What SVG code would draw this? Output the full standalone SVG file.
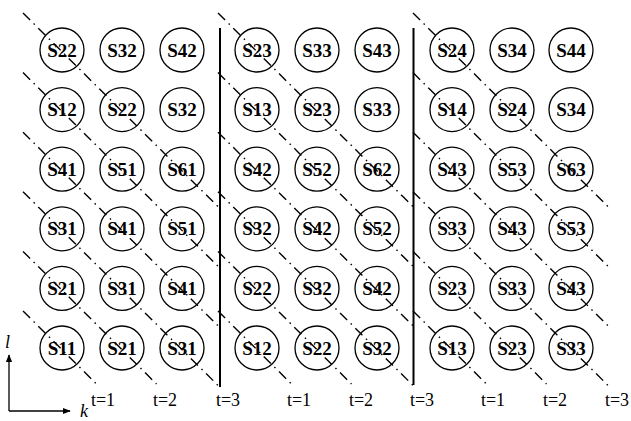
<svg xmlns="http://www.w3.org/2000/svg" width="631" height="421" viewBox="0 0 631 421">
<defs>
<style>
.n circle{fill:none;stroke:#000;stroke-width:1.3}
.n text{font-family:"Liberation Serif","Times New Roman",serif;font-size:19px;font-weight:bold;text-anchor:middle;fill:#000}
.d{fill:none;stroke:#000;stroke-width:1.4;stroke-dasharray:10 5 1.5 5}
.v{stroke:#000;stroke-width:2}
.t{font-family:"Liberation Serif","Times New Roman",serif;font-size:18px;text-anchor:middle;fill:#000}
.ax{stroke:#000;stroke-width:1.3;fill:none}
.lab{font-family:"Liberation Serif","Times New Roman",serif;font-size:18px;font-style:italic;fill:#000}
</style>
<marker id="ah" viewBox="0 0 10 10" refX="9" refY="5" markerWidth="8" markerHeight="8" markerUnits="userSpaceOnUse" orient="auto">
<path d="M0,1 L10,5 L0,9 Z" fill="#000"/>
</marker>
</defs>
<rect width="631" height="421" fill="#fff"/>
<g id="connectors">
<path class="d" d="M23,13 L219,207.6"/>
<path class="d" d="M23,72.6 L219,267.2"/>
<path class="d" d="M23,132.2 L219,326.8"/>
<path class="d" d="M23,191.8 L219,386.4"/>
<path class="d" d="M23,251.4 L156.5,384"/>
<path class="d" d="M23,311 L96.5,384"/>
<path class="d" d="M218,13 L414,207.6"/>
<path class="d" d="M218,72.6 L414,267.2"/>
<path class="d" d="M218,132.2 L414,326.8"/>
<path class="d" d="M218,191.8 L414,386.4"/>
<path class="d" d="M218,251.4 L351.5,384"/>
<path class="d" d="M218,311 L291.5,384"/>
<path class="d" d="M413,13 L609,207.6"/>
<path class="d" d="M413,72.6 L609,267.2"/>
<path class="d" d="M413,132.2 L609,326.8"/>
<path class="d" d="M413,191.8 L609,386.4"/>
<path class="d" d="M413,251.4 L546.5,384"/>
<path class="d" d="M413,311 L486.5,384"/>
<line class="v" x1="220" y1="28" x2="220" y2="387"/>
<line class="v" x1="413.5" y1="28" x2="413.5" y2="385"/>
</g>
<g id="p1">
<g class="n" id="p1r1c1"><circle cx="62" cy="50" r="22"/><text x="62" y="56.5">S22</text></g>
<g class="n" id="p1r1c2"><circle cx="122" cy="50" r="22"/><text x="122" y="56.5">S32</text></g>
<g class="n" id="p1r1c3"><circle cx="182" cy="50" r="22"/><text x="182" y="56.5">S42</text></g>
<g class="n" id="p1r2c1"><circle cx="62" cy="109.6" r="22"/><text x="62" y="116.1">S12</text></g>
<g class="n" id="p1r2c2"><circle cx="122" cy="109.6" r="22"/><text x="122" y="116.1">S22</text></g>
<g class="n" id="p1r2c3"><circle cx="182" cy="109.6" r="22"/><text x="182" y="116.1">S32</text></g>
<g class="n" id="p1r3c1"><circle cx="62" cy="169.2" r="22"/><text x="62" y="175.7">S41</text></g>
<g class="n" id="p1r3c2"><circle cx="122" cy="169.2" r="22"/><text x="122" y="175.7">S51</text></g>
<g class="n" id="p1r3c3"><circle cx="182" cy="169.2" r="22"/><text x="182" y="175.7">S61</text></g>
<g class="n" id="p1r4c1"><circle cx="62" cy="228.8" r="22"/><text x="62" y="235.3">S31</text></g>
<g class="n" id="p1r4c2"><circle cx="122" cy="228.8" r="22"/><text x="122" y="235.3">S41</text></g>
<g class="n" id="p1r4c3"><circle cx="182" cy="228.8" r="22"/><text x="182" y="235.3">S51</text></g>
<g class="n" id="p1r5c1"><circle cx="62" cy="288.4" r="22"/><text x="62" y="294.9">S21</text></g>
<g class="n" id="p1r5c2"><circle cx="122" cy="288.4" r="22"/><text x="122" y="294.9">S31</text></g>
<g class="n" id="p1r5c3"><circle cx="182" cy="288.4" r="22"/><text x="182" y="294.9">S41</text></g>
<g class="n" id="p1r6c1"><circle cx="62" cy="348" r="22"/><text x="62" y="354.5">S11</text></g>
<g class="n" id="p1r6c2"><circle cx="122" cy="348" r="22"/><text x="122" y="354.5">S21</text></g>
<g class="n" id="p1r6c3"><circle cx="182" cy="348" r="22"/><text x="182" y="354.5">S31</text></g>
</g>
<g id="p2">
<g class="n" id="p2r1c1"><circle cx="257" cy="50" r="22"/><text x="257" y="56.5">S23</text></g>
<g class="n" id="p2r1c2"><circle cx="317" cy="50" r="22"/><text x="317" y="56.5">S33</text></g>
<g class="n" id="p2r1c3"><circle cx="377" cy="50" r="22"/><text x="377" y="56.5">S43</text></g>
<g class="n" id="p2r2c1"><circle cx="257" cy="109.6" r="22"/><text x="257" y="116.1">S13</text></g>
<g class="n" id="p2r2c2"><circle cx="317" cy="109.6" r="22"/><text x="317" y="116.1">S23</text></g>
<g class="n" id="p2r2c3"><circle cx="377" cy="109.6" r="22"/><text x="377" y="116.1">S33</text></g>
<g class="n" id="p2r3c1"><circle cx="257" cy="169.2" r="22"/><text x="257" y="175.7">S42</text></g>
<g class="n" id="p2r3c2"><circle cx="317" cy="169.2" r="22"/><text x="317" y="175.7">S52</text></g>
<g class="n" id="p2r3c3"><circle cx="377" cy="169.2" r="22"/><text x="377" y="175.7">S62</text></g>
<g class="n" id="p2r4c1"><circle cx="257" cy="228.8" r="22"/><text x="257" y="235.3">S32</text></g>
<g class="n" id="p2r4c2"><circle cx="317" cy="228.8" r="22"/><text x="317" y="235.3">S42</text></g>
<g class="n" id="p2r4c3"><circle cx="377" cy="228.8" r="22"/><text x="377" y="235.3">S52</text></g>
<g class="n" id="p2r5c1"><circle cx="257" cy="288.4" r="22"/><text x="257" y="294.9">S22</text></g>
<g class="n" id="p2r5c2"><circle cx="317" cy="288.4" r="22"/><text x="317" y="294.9">S32</text></g>
<g class="n" id="p2r5c3"><circle cx="377" cy="288.4" r="22"/><text x="377" y="294.9">S42</text></g>
<g class="n" id="p2r6c1"><circle cx="257" cy="348" r="22"/><text x="257" y="354.5">S12</text></g>
<g class="n" id="p2r6c2"><circle cx="317" cy="348" r="22"/><text x="317" y="354.5">S22</text></g>
<g class="n" id="p2r6c3"><circle cx="377" cy="348" r="22"/><text x="377" y="354.5">S32</text></g>
</g>
<g id="p3">
<g class="n" id="p3r1c1"><circle cx="452" cy="50" r="22"/><text x="452" y="56.5">S24</text></g>
<g class="n" id="p3r1c2"><circle cx="512" cy="50" r="22"/><text x="512" y="56.5">S34</text></g>
<g class="n" id="p3r1c3"><circle cx="571" cy="50" r="22"/><text x="571" y="56.5">S44</text></g>
<g class="n" id="p3r2c1"><circle cx="452" cy="109.6" r="22"/><text x="452" y="116.1">S14</text></g>
<g class="n" id="p3r2c2"><circle cx="512" cy="109.6" r="22"/><text x="512" y="116.1">S24</text></g>
<g class="n" id="p3r2c3"><circle cx="571" cy="109.6" r="22"/><text x="571" y="116.1">S34</text></g>
<g class="n" id="p3r3c1"><circle cx="452" cy="169.2" r="22"/><text x="452" y="175.7">S43</text></g>
<g class="n" id="p3r3c2"><circle cx="512" cy="169.2" r="22"/><text x="512" y="175.7">S53</text></g>
<g class="n" id="p3r3c3"><circle cx="571" cy="169.2" r="22"/><text x="571" y="175.7">S63</text></g>
<g class="n" id="p3r4c1"><circle cx="452" cy="228.8" r="22"/><text x="452" y="235.3">S33</text></g>
<g class="n" id="p3r4c2"><circle cx="512" cy="228.8" r="22"/><text x="512" y="235.3">S43</text></g>
<g class="n" id="p3r4c3"><circle cx="571" cy="228.8" r="22"/><text x="571" y="235.3">S53</text></g>
<g class="n" id="p3r5c1"><circle cx="452" cy="288.4" r="22"/><text x="452" y="294.9">S23</text></g>
<g class="n" id="p3r5c2"><circle cx="512" cy="288.4" r="22"/><text x="512" y="294.9">S33</text></g>
<g class="n" id="p3r5c3"><circle cx="571" cy="288.4" r="22"/><text x="571" y="294.9">S43</text></g>
<g class="n" id="p3r6c1"><circle cx="452" cy="348" r="22"/><text x="452" y="354.5">S13</text></g>
<g class="n" id="p3r6c2"><circle cx="512" cy="348" r="22"/><text x="512" y="354.5">S23</text></g>
<g class="n" id="p3r6c3"><circle cx="571" cy="348" r="22"/><text x="571" y="354.5">S33</text></g>
</g>
<g id="labels">
<text class="t" x="103" y="406">t=1</text>
<text class="t" x="165" y="406">t=2</text>
<text class="t" x="228" y="406">t=3</text>
<text class="t" x="299" y="406">t=1</text>
<text class="t" x="361" y="406">t=2</text>
<text class="t" x="422" y="406">t=3</text>
<text class="t" x="493" y="406">t=1</text>
<text class="t" x="555" y="406">t=2</text>
<text class="t" x="617" y="406">t=3</text>
</g>
<g id="axes">
<path class="ax" d="M9,411 L9,355" marker-end="url(#ah)"/>
<path class="ax" d="M9,411 L70,411" marker-end="url(#ah)"/>
<text class="lab" x="5" y="348">l</text>
<text class="lab" x="80" y="417">k</text>
</g>
</svg>
